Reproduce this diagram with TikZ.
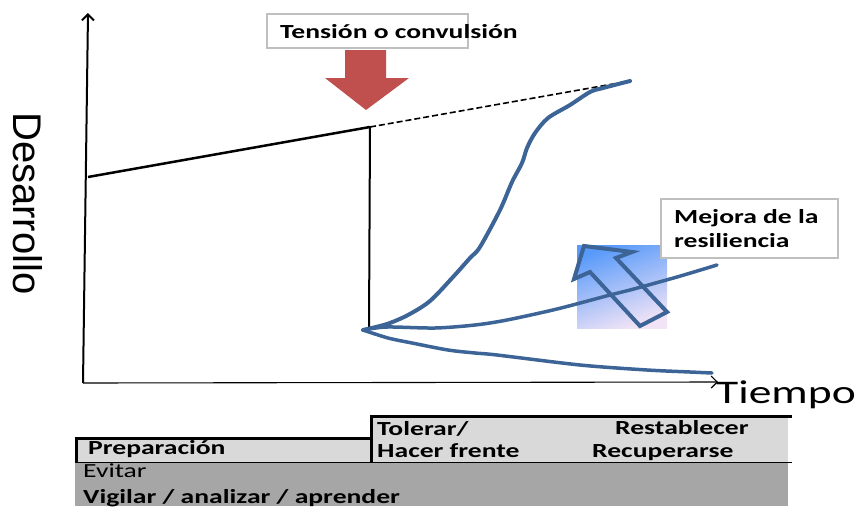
\documentclass[tikz,border=0pt]{standalone}
\usepackage{fontspec}
\setmainfont{Carlito}
\newfontfamily\desfont{Liberation Sans}
\usepackage{graphicx}
\usetikzlibrary{arrows.meta,shadings}
\newcommand{\hs}[1]{\scalebox{1.38}[1]{#1}}
\definecolor{curveblue}{RGB}{60,100,150}
\definecolor{shockred}{RGB}{192,80,77}
\definecolor{boxgray}{RGB}{191,191,191}
\definecolor{lightband}{RGB}{217,217,217}
\definecolor{darkband}{RGB}{166,166,166}
\definecolor{gTop}{RGB}{88,154,250}
\definecolor{gMid}{RGB}{140,188,248}
\definecolor{gBot}{RGB}{242,228,246}
\begin{document}
\begin{tikzpicture}[x=1pt,y=-1pt,
  lbl/.style={inner sep=0pt, anchor=base west, font=\fontsize{20}{24}\selectfont\bfseries},
  lblr/.style={inner sep=0pt, anchor=base west, font=\fontsize{20}{24}\selectfont},
  calloutbox/.style={draw=boxgray, line width=2.5pt, fill=white},
  axisline/.style={black, -{Straight Barb[length=6pt,width=12pt]}},
  bluecurve/.style={curveblue, line width=3.5pt, line cap=round, line join=round},
]
\useasboundingbox (0,0) rectangle (859,506);

% axes
\coordinate (O) at (83,383);
\coordinate (ytop) at (88,13);
\coordinate (xend) at (718,382);
\draw[axisline, line width=2pt] (O) -- (ytop);
\draw[axisline, line width=1.1pt] (O) -- (xend);

\node[inner sep=0pt, anchor=base west, font=\fontsize{33}{36}\selectfont] (tiempo) at (716,403) {\hs{Tiempo}};
\node[inner sep=0pt, rotate=-90, anchor=base west, font=\desfont\fontsize{40}{44}\selectfont] (desarrollo) at (13,112) {Desarrollo};

% pre-shock line and shock
\coordinate (s0) at (88,177);
\coordinate (shock) at (370,127);
\coordinate (low) at (369,329);
\coordinate (trend) at (630,81);
\draw[black, line width=2.5pt] (s0) -- (shock);
\draw[black, line width=2pt] (shock) -- (low);
\draw[black, line width=1.6pt, dash pattern=on 6pt off 3pt] (shock) -- (trend);

% red arrow
\fill[shockred] (345,50) -- (386,50) -- (386,78) -- (409,78) -- (366,110) -- (325,78) -- (345,78) -- cycle;

% tension box
\draw[calloutbox] (267,14) rectangle (468,48);
\node[lbl] (tension) at (280,38) {\hs{Tensión o convulsión}};

% gradient square and arrow
\begin{scope}[yscale=-1]
\shade[top color=gTop, middle color=gMid, bottom color=gBot, shading angle=20]
  (577,-245) rectangle (667,-328);
\end{scope}
\draw[curveblue, line width=4pt, line join=miter] (584,246) -- (632,252) -- (616,258) -- (667,312) -- (640,326) -- (590,272) -- (574,279) -- cycle;

% mejora box
\draw[calloutbox] (661,199) rectangle (838,258);
\node[lbl] (mejora1) at (674,223) {\hs{Mejora de la}};
\node[lbl] (mejora2) at (674,247) {\hs{resiliencia}};

% curves
\coordinate (tip) at (363,330);
\draw[bluecurve, line width=4pt] plot[smooth, tension=0.5] coordinates {(tip) (387,324) (408,315) (430,301) (453,277) (470,258) (480,247) (500,210) (512,182) (522,163) (527,148) (535,133) (548,118) (570,105) (590,92) (603,88) (630,81)};
\draw[bluecurve] plot[smooth, tension=0.5] coordinates {(tip) (387,327) (435,328) (475,325) (507,320) (557,309) (610,295) (630,290) (677,277) (717,265)};
\draw[bluecurve] plot[smooth, tension=0.5] coordinates {(tip) (388,338) (412,343) (448,350) (475,353) (497,355) (580,365) (647,370) (690,372) (712,373)};

% bottom table
\fill[darkband] (75,462) rectangle (788,506);
\fill[lightband] (75,437) rectangle (370,462);
\fill[lightband] (370,415) rectangle (788,462);
\draw[black, line width=1pt] (75,462) -- (792,462);
\draw[black, line width=3pt] (76.5,462) -- (76.5,438.5) -- (370,438.5);
\draw[black, line width=3pt] (371.5,462) -- (371.5,416.5) -- (792,416.5);

\node[lbl] (prep) at (88,454) {\hs{Preparación}};
\node[lblr] (evitar) at (83,477) {\hs{Evitar}};
\node[lbl] (vigilar) at (83,503) {\hs{Vigilar / analizar / aprender}};
\node[lbl] (tolerar) at (377,435) {\hs{Tolerar/}};
\node[lbl] (hacer) at (377,457) {\hs{Hacer frente}};
\node[lbl] (restab) at (615,434) {\hs{Restablecer}};
\node[lbl] (recup) at (592,457) {\hs{Recuperarse}};
\end{tikzpicture}
\end{document}
